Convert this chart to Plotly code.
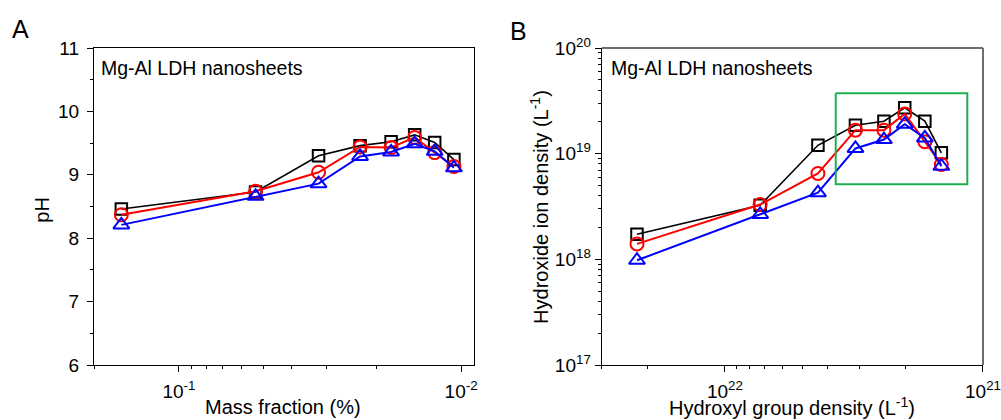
import numpy as np
import plotly.graph_objects as go

# ---------------- data ----------------
mass_fraction = [0.160, 0.0535, 0.0320, 0.0228, 0.0177, 0.0146, 0.0124, 0.0106]
ph_black = [8.46, 8.73, 9.30, 9.46, 9.52, 9.63, 9.51, 9.24]
ph_red = [8.37, 8.74, 9.04, 9.44, 9.43, 9.59, 9.35, 9.13]
ph_blue = [8.21, 8.66, 8.86, 9.29, 9.36, 9.49, 9.37, 9.11]

oh_group = [2.19e22, 7.30e21, 4.36e21, 3.12e21, 2.42e21, 2.01e21, 1.68e21, 1.45e21]
oh_black = [1.73e18, 3.25e18, 1.20e19, 1.86e19, 2.03e19, 2.72e19, 2.03e19, 1.02e19]
oh_red = [1.40e18, 3.30e18, 6.50e18, 1.67e19, 1.67e19, 2.38e19, 1.30e19, 7.90e18]
oh_blue = [9.8e17, 2.66e18, 4.27e18, 1.12e19, 1.36e19, 1.90e19, 1.41e19, 7.6e18]

box_x = [3.72e21, 1.15e21]
box_y = [5.14e18, 3.73e19]

a_xtick_vals = [0.1, 0.01]
a_xtick_text = ["10<sup>-1</sup>", "10<sup>-2</sup>"]
a_xminor = [0.2, 0.09, 0.08, 0.07, 0.06, 0.05, 0.04, 0.03, 0.02]
a_yticks = [6, 7, 8, 9, 10, 11]
a_yminor = [6.5, 7.5, 8.5, 9.5, 10.5]

b_xtick_vals = [1e22, 1e21]
b_xtick_text = ["10<sup>22</sup>", "10<sup>21</sup>"]
b_xminor = [3e22, 2e22, 9e21, 8e21, 7e21, 6e21, 5e21, 4e21, 3e21, 2e21]
b_ytick_vals = [1e17, 1e18, 1e19, 1e20]
b_ytick_text = ["10<sup>17</sup>", "10<sup>18</sup>", "10<sup>19</sup>", "10<sup>20</sup>"]
b_yminor = [m * 10.0 ** e for e in (17, 18, 19) for m in range(2, 10)]

FONT = "Arial, Liberation Sans, sans-serif"
TICK_SIZE = 19
TITLE_SIZE = 20

series_style = [
    ("black", "square-open", 11.5, 1.6),
    ("red", "circle-open", 13, 2),
    ("blue", "triangle-up-open", 14, 2),
]

fig = go.Figure()

for (col, sym, sz, lw), ys in zip(series_style, [ph_black, ph_red, ph_blue]):
    fig.add_trace(go.Scatter(
        x=mass_fraction, y=ys, mode="lines+markers", xaxis="x", yaxis="y",
        line=dict(color=col, width=lw),
        marker=dict(symbol=sym, size=sz, color=col, line=dict(color=col, width=2)),
        showlegend=False))

for (col, sym, sz, lw), ys in zip(series_style, [oh_black, oh_red, oh_blue]):
    fig.add_trace(go.Scatter(
        x=oh_group, y=ys, mode="lines+markers", xaxis="x2", yaxis="y2",
        line=dict(color=col, width=lw),
        marker=dict(symbol=sym, size=sz, color=col, line=dict(color=col, width=2)),
        showlegend=False))

# green highlight box
fig.add_trace(go.Scatter(
    x=[box_x[0], box_x[1], box_x[1], box_x[0], box_x[0]],
    y=[box_y[1], box_y[1], box_y[0], box_y[0], box_y[1]],
    mode="lines", xaxis="x2", yaxis="y2",
    line=dict(color="#1fae4f", width=2), showlegend=False, hoverinfo="skip"))

axis_common = dict(
    showgrid=False, zeroline=False, linecolor="black", linewidth=1.2,
    ticks="outside", ticklen=6, tickwidth=1.2, tickcolor="black", automargin=False,
    tickfont=dict(family=FONT, size=TICK_SIZE, color="black"),
)
minor_common = dict(tickmode="array", ticks="outside", ticklen=3, tickwidth=1,
                    tickcolor="black", showgrid=False)

def title_ann(text, xref, yref, x, y, angle=0):
    return dict(text=text, xref=xref, yref=yref, x=x, y=y, textangle=angle,
                xanchor="center", yanchor="middle", showarrow=False,
                font=dict(family=FONT, size=TITLE_SIZE, color="black"))

fig.update_layout(
    width=1001, height=420,
    margin=dict(l=94, r=18, t=48, b=55),
    paper_bgcolor="white", plot_bgcolor="white",
    font=dict(family=FONT, color="black"),
    xaxis=dict(
        **axis_common, domain=[0, 0.4274], anchor="y", type="log",
        range=[np.log10(0.2), np.log10(0.009)], mirror=True,
        tickmode="array", tickvals=a_xtick_vals, ticktext=a_xtick_text,
        ticklabelstandoff=3, minor=dict(**minor_common, tickvals=a_xminor),
    ),
    yaxis=dict(
        **axis_common, domain=[0, 1], anchor="x", range=[6, 11], mirror=True,
        tickmode="array", tickvals=a_yticks, ticklabelstandoff=4,
        minor=dict(**minor_common, tickvals=a_yminor),
    ),
    xaxis2=dict(
        **axis_common, domain=[0.5711, 1], anchor="y2", type="log",
        range=[np.log10(3e22), 21], mirror=False,
        tickmode="array", tickvals=b_xtick_vals, ticktext=b_xtick_text,
        ticklabelstandoff=3, minor=dict(**minor_common, tickvals=b_xminor),
    ),
    yaxis2=dict(
        **axis_common, domain=[0, 1], anchor="x2", type="log",
        range=[17, 20], mirror=False,
        tickmode="array", tickvals=b_ytick_vals, ticktext=b_ytick_text,
        ticklabelstandoff=0, minor=dict(**minor_common, tickvals=b_yminor),
    ),
    shapes=[
        dict(type="line", xref="x2 domain", yref="y2 domain", x0=0, x1=1, y0=1, y1=1,
             line=dict(color="#6e6e6e", width=2)),
        dict(type="line", xref="x2 domain", yref="y2 domain", x0=1, x1=1, y0=0, y1=1,
             line=dict(color="#6e6e6e", width=2)),
    ],
    annotations=[
        dict(text="A", xref="paper", yref="paper", x=-0.083, y=1.06,
             xanchor="center", yanchor="middle", showarrow=False,
             font=dict(family=FONT, size=25, color="black")),
        dict(text="B", xref="paper", yref="paper", x=0.477, y=1.055,
             xanchor="center", yanchor="middle", showarrow=False,
             font=dict(family=FONT, size=25, color="black")),
        dict(text="Mg-Al LDH nanosheets", xref="x domain", yref="y domain",
             x=0.014, y=0.938, xanchor="left", yanchor="middle", showarrow=False,
             font=dict(family=FONT, size=19.5, color="black")),
        dict(text="Mg-Al LDH nanosheets", xref="x2 domain", yref="y2 domain",
             x=0.02, y=0.938, xanchor="left", yanchor="middle", showarrow=False,
             font=dict(family=FONT, size=19.5, color="black")),
        title_ann("Mass fraction (%)", "x domain", "paper", 0.497, -0.132),
        title_ann("pH", "paper", "y domain", -0.0585, 0.49, -90),
        title_ann("Hydroxyl group density (L<sup>-1</sup>)", "x2 domain", "paper", 0.5, -0.132),
        title_ann("Hydroxide ion density (L<sup>-1</sup>)", "paper", "y2 domain", 0.501, 0.5, -90),
    ],
)

fig.write_html(
    "out.html",
    config={"displayModeBar": False},
    post_script="document.body.style.margin='0';document.body.style.padding='0';"
                "document.documentElement.style.overflow='hidden';",
)
